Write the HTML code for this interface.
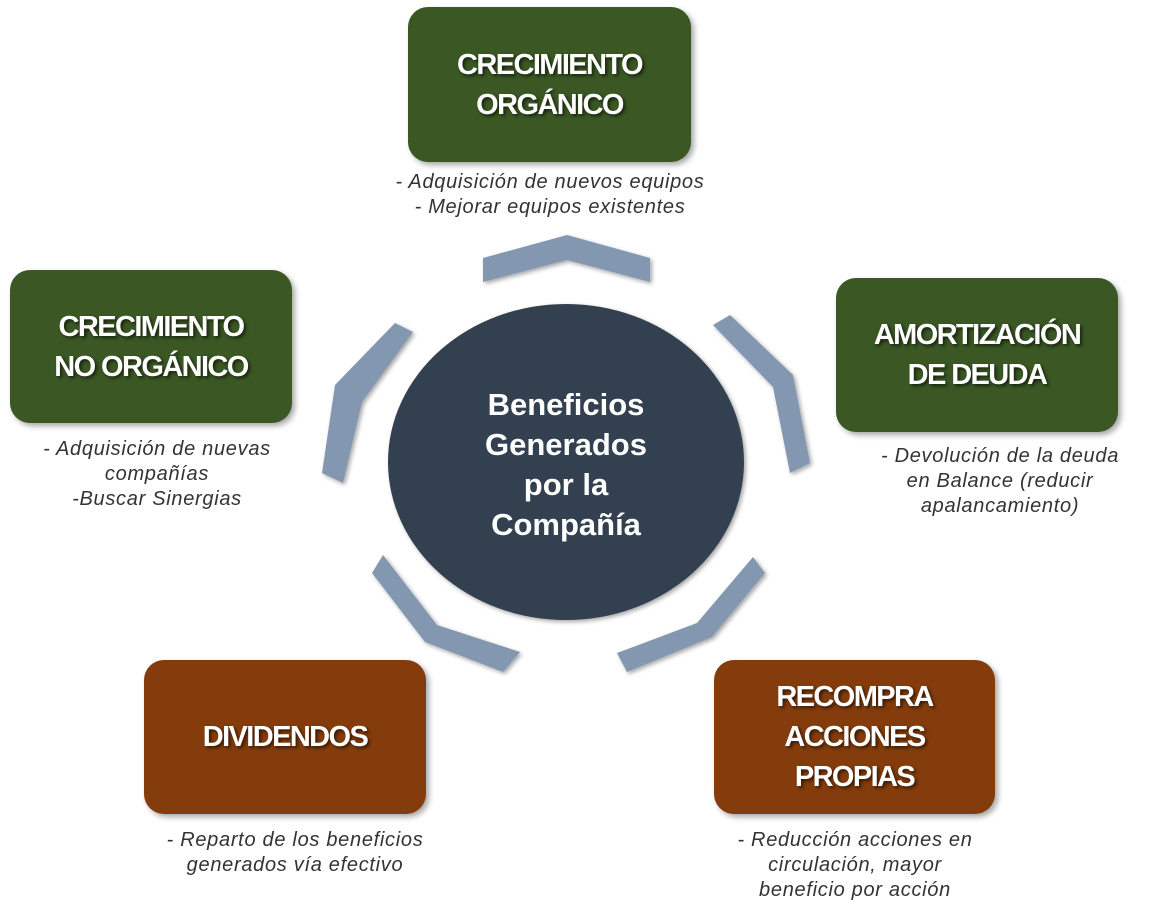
<!DOCTYPE html>
<html><head><meta charset="utf-8"><style>
body{margin:0;width:1152px;height:915px;background:#fff;position:relative;overflow:hidden;font-family:"Liberation Sans",sans-serif}
.b{position:absolute;border-radius:20px;display:flex;align-items:center;justify-content:center;text-align:center;color:#fff;font-weight:bold;font-size:29px;line-height:40px;letter-spacing:-1.6px;text-shadow:2px 2px 3px rgba(0,0,0,.6);box-shadow:3px 3px 6px rgba(0,0,0,.35)}
.g{background:#3a5724}.r{background:#843c0c}
.c{position:absolute;text-align:center;font-style:italic;font-size:20px;letter-spacing:0.7px;line-height:25px;color:#333}
</style></head><body>
<svg width="1152" height="915" style="position:absolute;left:0;top:0">
<defs><filter id="s"><feDropShadow dx="2" dy="2" stdDeviation="2" flood-opacity=".35"/></filter></defs>
<g fill="#8497b0" filter="url(#s)">
<polygon points="483,282 483,258 567,235 650,258 650,282 567,260"/>
<polygon points="713,325 730,315 793,375 810,463 790,473 773,387"/>
<polygon points="753,557 765,573 712,637 627,672 617,653 697,623"/>
<polygon points="383,555 372,573 425,642 503,672 520,652 437,625"/>
<polygon points="395,323 413,332 362,402 343,483 322,473 335,385"/>
</g>
<ellipse cx="566" cy="462" rx="178" ry="158" fill="#333f50" filter="url(#s)"/>
<text fill="#fff" font-family="Liberation Sans" font-weight="bold" font-size="31" text-anchor="middle">
<tspan x="566" y="415">Beneficios</tspan><tspan x="566" y="455">Generados</tspan><tspan x="566" y="495">por la</tspan><tspan x="566" y="535">Compañía</tspan></text>
</svg>
<div class="b g" style="left:408px;top:7px;width:283px;height:155px">CRECIMIENTO<br>ORGÁNICO</div>
<div class="b g" style="left:10px;top:270px;width:282px;height:153px">CRECIMIENTO<br>NO ORGÁNICO</div>
<div class="b g" style="left:836px;top:278px;width:282px;height:154px">AMORTIZACIÓN<br>DE DEUDA</div>
<div class="b r" style="left:144px;top:660px;width:282px;height:154px">DIVIDENDOS</div>
<div class="b r" style="left:714px;top:660px;width:281px;height:154px">RECOMPRA<br>ACCIONES<br>PROPIAS</div>
<div class="c" style="left:340px;top:170px;width:420px">- Adquisición de nuevos equipos<br>- Mejorar equipos existentes</div>
<div class="c" style="left:-10px;top:437px;width:334px">- Adquisición de nuevas<br>compañías<br>-Buscar Sinergias</div>
<div class="c" style="left:840px;top:444px;width:320px">- Devolución de la deuda<br>en Balance (reducir<br>apalancamiento)</div>
<div class="c" style="left:130px;top:828px;width:330px">- Reparto de los beneficios<br>generados vía efectivo</div>
<div class="c" style="left:695px;top:828px;width:320px">- Reducción acciones en<br>circulación, mayor<br>beneficio por acción</div>
</body></html>
